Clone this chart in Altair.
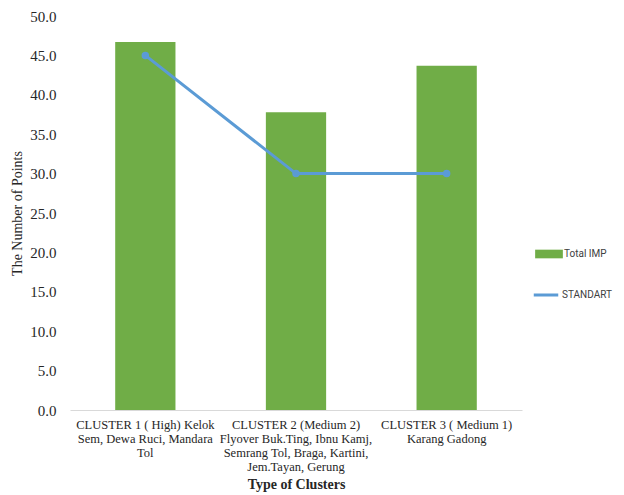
import altair as alt
import pandas as pd

categories = [
    "CLUSTER 1 (  High) Kelok|Sem, Dewa Ruci, Mandara|Tol",
    "CLUSTER 2 (Medium 2)|Flyover Buk.Ting, Ibnu Kamj,|Semrang Tol, Braga, Kartini,|Jem.Tayan, Gerung",
    "CLUSTER 3 ( Medium 1)|Karang Gadong",
]
total_imp = [46.7, 37.8, 43.7]
standart = [45.0, 30.0, 30.0]
y_ticks = [0, 5, 10, 15, 20, 25, 30, 35, 40, 45, 50]

df = pd.DataFrame({"cluster": categories, "Total IMP": total_imp, "STANDART": standart})
df["s_bar"] = "Total IMP"
df["s_line"] = "STANDART"

serif = "Liberation Serif"
sans = "Roboto"


def x_enc():
    return alt.X(
        "cluster:N",
        sort=categories,
        title="Type of Clusters",
        scale=alt.Scale(paddingInner=0.6, paddingOuter=0.3),
        axis=alt.Axis(
            labelExpr="split(datum.label, '|')",
            labelAngle=0,
            labelFont=serif,
            labelFontSize=12.5,
            labelColor="#262626",
            labelLineHeight=14,
            labelPadding=8,
            labelLimit=300,
            labelOverlap=False,
            ticks=False,
            domainColor="#d9d9d9",
            titleFont=serif,
            titleFontSize=14,
            titleFontWeight="bold",
            titleColor="#262626",
            titlePadding=5,
        ),
    )


y_scale = alt.Scale(domain=[0, 50], nice=False)


def y_axis():
    return alt.Axis(
        values=y_ticks,
        format=".1f",
        grid=False,
        domain=False,
        ticks=False,
        labelOverlap=False,
        labelFont=serif,
        labelFontSize=15,
        labelColor="#262626",
        labelPadding=14,
        titleFont=serif,
        titleFontSize=14,
        titleFontWeight="normal",
        titleColor="#262626",
        titlePadding=5,
    )


bars = alt.Chart(df).mark_bar(color="#70AD47").encode(
    x=x_enc(),
    y=alt.Y("Total IMP:Q", scale=y_scale, axis=y_axis(), title="The Number of Points"),
    color=alt.Color(
        "s_bar:N",
        scale=alt.Scale(domain=["Total IMP"], range=["#70AD47"]),
        legend=alt.Legend(
            title=None,
            orient="none",
            legendX=470,
            legendY=229,
            symbolType="M-1.6,-0.5H1.6V0.5H-1.6Z",
            symbolSize=300,
            symbolStrokeWidth=0,
            labelOffset=6,
            labelFont=sans,
            labelFontSize=10,
            labelColor="#404040",
        ),
    ),
)

line = alt.Chart(df).mark_line(
    strokeWidth=3, point=alt.OverlayMarkDef(size=30, filled=True, color="#5B9BD5")
).encode(
    x=x_enc(),
    y=alt.Y("STANDART:Q", scale=y_scale, axis=y_axis(), title="The Number of Points"),
    stroke=alt.Stroke(
        "s_line:N",
        scale=alt.Scale(domain=["STANDART"], range=["#5B9BD5"]),
        legend=alt.Legend(
            title=None,
            orient="none",
            legendX=462,
            legendY=265,
            symbolType="stroke",
            symbolStrokeWidth=3,
            symbolSize=600,
            labelOffset=2,
            labelFont=sans,
            labelFontSize=10,
            labelColor="#404040",
        ),
    ),
)

chart = (
    alt.layer(bars, line)
    .resolve_scale(color="independent", stroke="independent")
    .properties(
        width=452,
        height=394,
        background="white",
        autosize=alt.AutoSizeParams(type="none"),
        padding={"left": 62, "top": 8, "right": 94, "bottom": 85},
    )
    .configure_view(strokeWidth=0, stroke="transparent")
)

chart.save("out.html", embed_options={"renderer": "svg", "actions": False})
